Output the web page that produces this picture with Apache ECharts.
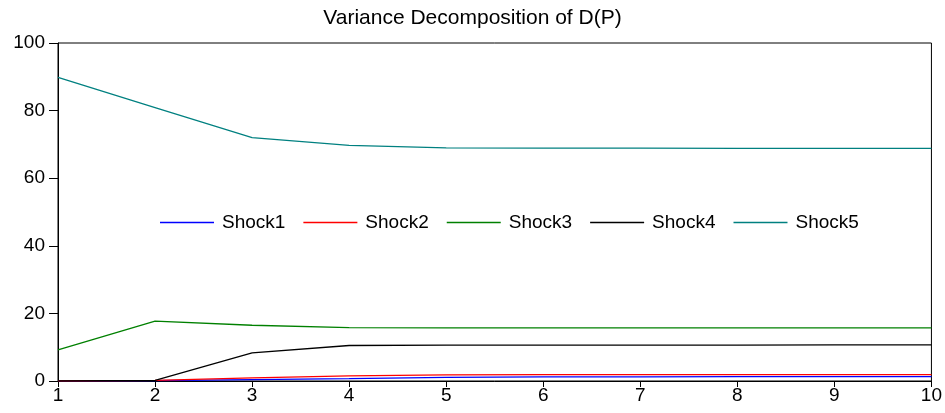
<!DOCTYPE html>
<html>
<head>
<meta charset="utf-8">
<script src="https://cdn.jsdelivr.net/npm/echarts@6/dist/echarts.min.js"></script>
<style>
  html, body { margin: 0; padding: 0; background: #fff; }
  #chart { width: 945px; height: 413px; }
</style>
</head>
<body>
<div id="chart"></div>
<script>
// periods
const periods = ['1', '2', '3', '4', '5', '6', '7', '8', '9', '10']

// variance shares (%)
const shock1 = [0, 0.1, 0.4, 0.7, 1.1, 1.2, 1.2, 1.3, 1.3, 1.3]
const shock2 = [0, 0.2, 0.9, 1.5, 1.8, 1.9, 1.9, 1.9, 1.9, 1.9]
const shock3 = [9.2, 17.7, 16.5, 15.8, 15.7, 15.7, 15.7, 15.7, 15.7, 15.7]
const shock4 = [0, 0.2, 8.3, 10.5, 10.6, 10.6, 10.6, 10.6, 10.7, 10.7]
const shock5 = [89.8, 80.9, 72.0, 69.7, 69.0, 68.9, 68.9, 68.8, 68.8, 68.8]

const yTicks = [0, 20, 40, 60, 80, 100]

const chart = echarts.init(document.getElementById('chart'))

const font = 'Liberation Sans, Arial, sans-serif'

function line(name, data, color) {
  return {
    name: name,
    type: 'line',
    data: data,
    symbol: 'none',
    lineStyle: { color: color, width: 1.3 },
    itemStyle: { color: color },
    animation: false
  }
}

const option = {
  backgroundColor: '#fff',
  title: {
    text: 'Variance Decomposition of D(P)',
    left: 'center',
    top: 3,
    textStyle: { fontFamily: font, fontSize: 21, fontWeight: 'normal', color: '#000' }
  },
  legend: {
    left: 155,
    top: 208,
    icon: 'rect',
    itemWidth: 54,
    itemHeight: 1.3,
    itemGap: 18,
    textStyle: { fontFamily: font, fontSize: 19, color: '#000', padding: [0, 0, 0, 3] }
  },
  grid: {
    left: 58,
    right: 13,
    top: 43,
    bottom: 32,
    show: true,
    borderColor: '#000',
    borderWidth: 1
  },
  xAxis: {
    type: 'category',
    data: periods,
    boundaryGap: false,
    axisLine: { lineStyle: { color: '#000', width: 1 } },
    axisTick: { alignWithLabel: true, length: 6, lineStyle: { color: '#000' } },
    axisLabel: { fontFamily: font, fontSize: 19, color: '#000', margin: 5 },
    splitLine: { show: false }
  },
  yAxis: {
    type: 'value',
    min: yTicks[0],
    max: yTicks[yTicks.length - 1],
    interval: 20,
    axisLine: { show: true, lineStyle: { color: '#000', width: 1 } },
    axisTick: { show: true, inside: false, length: 9, lineStyle: { color: '#000', width: 1 } },
    axisLabel: { fontFamily: font, fontSize: 19, color: '#000', margin: 13 },
    splitLine: { show: false }
  },
  series: [
    line('Shock1', shock1, '#0000ff'),
    line('Shock2', shock2, '#ff0000'),
    line('Shock3', shock3, '#008000'),
    line('Shock4', shock4, '#000000'),
    line('Shock5', shock5, '#008080')
  ]
}

chart.setOption(option)
</script>
</body>
</html>
